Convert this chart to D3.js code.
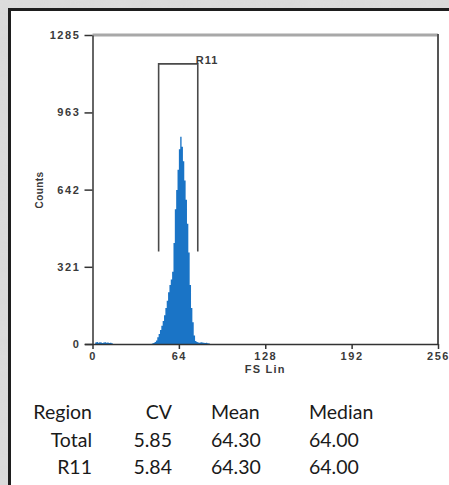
<!DOCTYPE html>
<html>
<head>
<meta charset="utf-8">
<script src="https://cdn.jsdelivr.net/npm/d3@7"></script>
<style>
  html, body { margin: 0; padding: 0; background: #d5d5d5; }
  svg { display: block; }
</style>
</head>
<body>
<script>
// ---------------- data ----------------
const channelRange = [0, 256];
const countRange = [0, 1285];
const xTicks = [0, 64, 128, 192, 256];
const yTicks = [0, 321, 642, 963, 1285];
const xLabel = "FS Lin";
const yLabel = "Counts";

// histogram: channel -> counts
const channels = [2, 3, 4, 5, 6, 7, 8, 9, 10, 11, 12, 13, 14,
  44, 45, 46, 47, 48, 49, 50, 51, 52, 53, 54, 55, 56, 57, 58, 59, 60,
  61, 62, 63, 64, 65, 66, 67, 68, 69, 70, 71, 72, 73, 74, 75, 76, 77,
  78, 79, 80, 81, 82, 83, 84, 85, 86];
const counts = [6, 8, 5, 7, 6, 4, 6, 7, 5, 6, 4, 5, 3,
  2, 4, 8, 15, 28, 42, 58, 76, 96, 120, 150, 180, 215, 245, 268, 300, 420,
  560, 640, 725, 810, 862, 820, 760, 680, 600, 500, 380, 245, 150, 90, 35, 12, 8,
  6, 5, 7, 6, 5, 4, 5, 3, 2];

// region marker
const regionName = "R11";
const regionBounds = [49, 78];
const regionTopCount = 1165;
const regionBottomCount = 385;

// statistics table
const statHeaders = ["Region", "CV", "Mean", "Median"];
const statRows = [
  ["Total", "5.85", "64.30", "64.00"],
  ["R11", "5.84", "64.30", "64.00"]
];

// ---------------- drawing ----------------
const W = 449, H = 485;
const svg = d3.select("body").append("svg").attr("width", W).attr("height", H);

// marble-like background texture
const defs = svg.append("defs");
const f = defs.append("filter").attr("id", "marble").attr("x", 0).attr("y", 0).attr("width", 1).attr("height", 1);
f.append("feTurbulence").attr("type", "fractalNoise").attr("baseFrequency", "0.03 0.08").attr("numOctaves", 3).attr("seed", 4).attr("result", "n");
f.append("feColorMatrix").attr("in", "n").attr("type", "matrix")
  .attr("values", "0 0 0 0 0.74  0 0 0 0 0.74  0 0 0 0 0.74  0.8 0 0 0 -0.15");
svg.append("rect").attr("width", W).attr("height", H).attr("fill", "#dadada");
svg.append("rect").attr("width", W).attr("height", H).attr("filter", "url(#marble)").attr("opacity", 0.7);

// white panel with dark border
svg.append("rect").attr("x", 11).attr("y", 11).attr("width", W - 11).attr("height", H - 11).attr("fill", "#ffffff");
svg.append("path").attr("d", `M9.5,${H} V9.5 H${W}`).attr("fill", "none").attr("stroke", "#1e1e1e").attr("stroke-width", 3);

const x = d3.scaleLinear().domain(channelRange).range([92.5, 438]);
const y = d3.scaleLinear().domain(countRange).range([344, 35]);

const tickFont = "'Liberation Sans', Arial, sans-serif";

// histogram as stepped areas (contiguous runs of channels)
const bins = channels.map((c, i) => ({ c, n: counts[i] }));
const runs = [];
bins.forEach((b, i) => {
  if (i === 0 || b.c !== bins[i - 1].c + 1) runs.push([]);
  runs[runs.length - 1].push(b);
});
const area = d3.area().curve(d3.curveStepAfter)
  .x(d => x(d.c)).y0(y(0)).y1(d => y(d.n));
svg.append("g").selectAll("path").data(runs).join("path")
  .attr("d", r => area([...r, { c: r[r.length - 1].c + 1, n: r[r.length - 1].n }]))
  .attr("fill", "#1a74c6");

// plot frame (top + right)
svg.append("path")
  .attr("d", `M${x(0)},${y(countRange[1])} H${x(256)}`)
  .attr("stroke", "#a8a8a8").attr("stroke-width", 3).attr("fill", "none");
svg.append("path")
  .attr("d", `M${x(256)},${y(countRange[1]) - 1} V${y(0)}`)
  .attr("stroke", "#555").attr("stroke-width", 2).attr("fill", "none");

// axes
const styleAxis = g => {
  g.select(".domain").attr("stroke", "#333").attr("stroke-width", 1.5);
  g.selectAll(".tick line").attr("stroke", "#333").attr("stroke-width", 1.5);
  g.selectAll(".tick text").attr("fill", "#3a3a3a")
    .attr("font-family", tickFont).attr("font-size", 11).attr("font-weight", "bold")
    .attr("letter-spacing", 1.6);
};
svg.append("g").attr("transform", `translate(0,${y(0)})`)
  .call(d3.axisBottom(x).tickValues(xTicks).tickFormat(d3.format("d")).tickSize(5).tickPadding(3).tickSizeOuter(0))
  .call(styleAxis)
  .call(g => g.select(".domain").attr("d", `M85,0.5H${x(256)}`));
svg.append("g").attr("transform", `translate(${x(0)},0)`)
  .call(d3.axisLeft(y).tickValues(yTicks).tickFormat(d3.format("d")).tickSize(8).tickPadding(4).tickSizeOuter(0))
  .call(styleAxis);

// axis titles
svg.append("text").attr("x", x(128)).attr("y", 373).attr("text-anchor", "middle")
  .attr("font-family", tickFont).attr("font-size", 11).attr("font-weight", "bold")
  .attr("letter-spacing", 1.2).attr("fill", "#3a3a3a").text(xLabel);
svg.append("text").attr("transform", "translate(43,190) rotate(-90)").attr("text-anchor", "middle")
  .attr("font-family", tickFont).attr("font-size", 10).attr("font-weight", "bold")
  .attr("letter-spacing", 0.4).attr("fill", "#3a3a3a").text(yLabel);

// region marker
const rTop = y(regionTopCount), rBot = y(regionBottomCount);
svg.append("path")
  .attr("d", `M${x(regionBounds[0])},${rBot} V${rTop} H${x(regionBounds[1])} V${rBot}`)
  .attr("fill", "none").attr("stroke", "#4a4a4a").attr("stroke-width", 1.6);
svg.append("text").attr("x", x(regionBounds[1]) - 2).attr("y", rTop + 0.5)
  .attr("font-family", tickFont).attr("font-size", 11).attr("font-weight", "bold")
  .attr("letter-spacing", 1).attr("fill", "#3a3a3a").text(regionName);

// statistics table
const tableFont = "Lato, 'Open Sans', sans-serif";
const colX = [92, 172, 211, 309];
const colAnchor = ["end", "end", "start", "start"];
const rowY = [419, 447, 474];
const table = svg.append("g").attr("font-family", tableFont).attr("font-size", 19.5).attr("fill", "#1a1a1a");
[statHeaders, ...statRows].forEach((row, r) => {
  row.forEach((txt, c) => {
    table.append("text").attr("x", colX[c]).attr("y", rowY[r])
      .attr("text-anchor", colAnchor[c]).text(txt);
  });
});
</script>
</body>
</html>
